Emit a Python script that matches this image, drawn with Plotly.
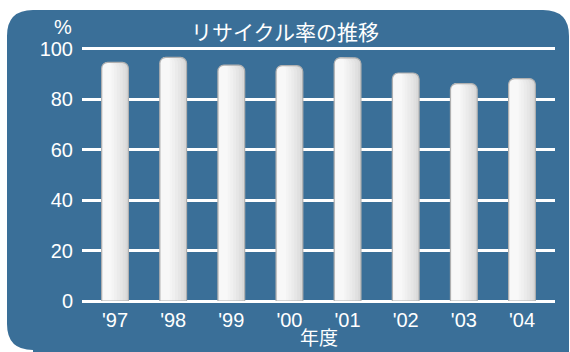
import plotly.graph_objects as go

# Recycling rate by fiscal year (%)
years = ["'97", "'98", "'99", "'00", "'01", "'02", "'03", "'04"]
rates = [94.5, 96.5, 93.4, 93.2, 96.3, 90.3, 86.1, 88.1]
y_ticks = [0, 20, 40, 60, 80, 100]

W, H = 570, 352
M_L, M_R, M_T, M_B = 82, 15, 46, 51
PW = W - M_L - M_R
PH = H - M_T - M_B

FONT = "Liberation Sans, Arial, Noto Sans CJK JP, sans-serif"
CJK = "Noto Sans CJK JP, sans-serif"
BG = "#3a6f98"

fig = go.Figure()

# cylinder-like shading: lighter layers stacked toward the left side of each bar
BAR_W = 0.46
left = -BAR_W / 2 + 0.012
layers = [
    (BAR_W, None, "#d9d9d9"),
    (0.40, left, "#e0e0e0"),
    (0.35, left, "#e6e6e6"),
    (0.30, left, "#ebebeb"),
    (0.25, left, "#f0f0f0"),
    (0.20, left, "#f4f4f4"),
    (0.15, left + 0.01, "#f8f8f8"),
]
for w, off, col in layers:
    fig.add_bar(
        x=years, y=rates, width=w, offset=off,
        marker=dict(color=col, line=dict(width=0)),
        hoverinfo="skip", showlegend=False,
    )
# outline on top
fig.add_bar(
    x=years, y=rates, width=BAR_W,
    marker=dict(color="rgba(0,0,0,0)", line=dict(width=1.2, color="#b0b0b0")),
    hovertemplate="%{x}: %{y}%<extra></extra>", showlegend=False,
)

# rounded background panel (pixel geometry converted to paper coords)
def px_x(p):
    return (p - M_L) / PW

def px_y(p):
    return (H - M_B - p) / PH

x0, x1, y0, r = 7, 569, 10, 26
y_bl = 350
path = (
    f"M {px_x(x0 + r)},{px_y(y0)} "
    f"L {px_x(x1 - r)},{px_y(y0)} "
    f"Q {px_x(x1)},{px_y(y0)} {px_x(x1)},{px_y(y0 + r)} "
    f"L {px_x(x1)},{px_y(360)} "
    f"L {px_x(x0 + r)},{px_y(360)} "
    f"L {px_x(x0 + r)},{px_y(y_bl)} "
    f"Q {px_x(x0)},{px_y(y_bl)} {px_x(x0)},{px_y(y_bl - r)} "
    f"L {px_x(x0)},{px_y(y0 + r)} "
    f"Q {px_x(x0)},{px_y(y0)} {px_x(x0 + r)},{px_y(y0)} Z"
)

fig.update_layout(
    width=W, height=H,
    margin=dict(l=M_L, r=M_R, t=M_T, b=M_B),
    paper_bgcolor="white",
    plot_bgcolor="rgba(0,0,0,0)",
    barmode="overlay",
    barcornerradius=6,
    font=dict(family=FONT, color="white", size=20),
    title=dict(
        text="リサイクル率の推移",
        x=0.5, xref="container", xanchor="center",
        y=1 - 33 / H, yref="container", yanchor="middle",
        font=dict(size=21, color="white", family=CJK),
    ),
    shapes=[dict(
        type="path", path=path, xref="paper", yref="paper",
        fillcolor=BG, line=dict(width=0), layer="below",
    )],
    annotations=[
        dict(
            text="%", xref="paper", yref="paper",
            x=px_x(63), y=px_y(27), xanchor="center", yanchor="middle",
            showarrow=False, font=dict(size=20, color="white"),
        ),
        dict(
            text="年度", xref="paper", yref="paper",
            x=0.5, y=px_y(352), xanchor="center", yanchor="bottom",
            showarrow=False, font=dict(size=19, color="white", family=CJK),
        ),
    ],
    xaxis=dict(
        range=[-0.568, 7.568], automargin=False,
        showgrid=False, zeroline=False, showline=False,
        ticks="", ticklabelstandoff=5,
        fixedrange=True,
    ),
    yaxis=dict(
        range=[0, 101], tickvals=y_ticks, automargin=False,
        showgrid=True, gridcolor="white", gridwidth=2.5,
        zeroline=True, zerolinecolor="white", zerolinewidth=2.5,
        showline=False, ticks="", ticklabelstandoff=8,
        fixedrange=True,
    ),
)

fig.write_html("out.html")
